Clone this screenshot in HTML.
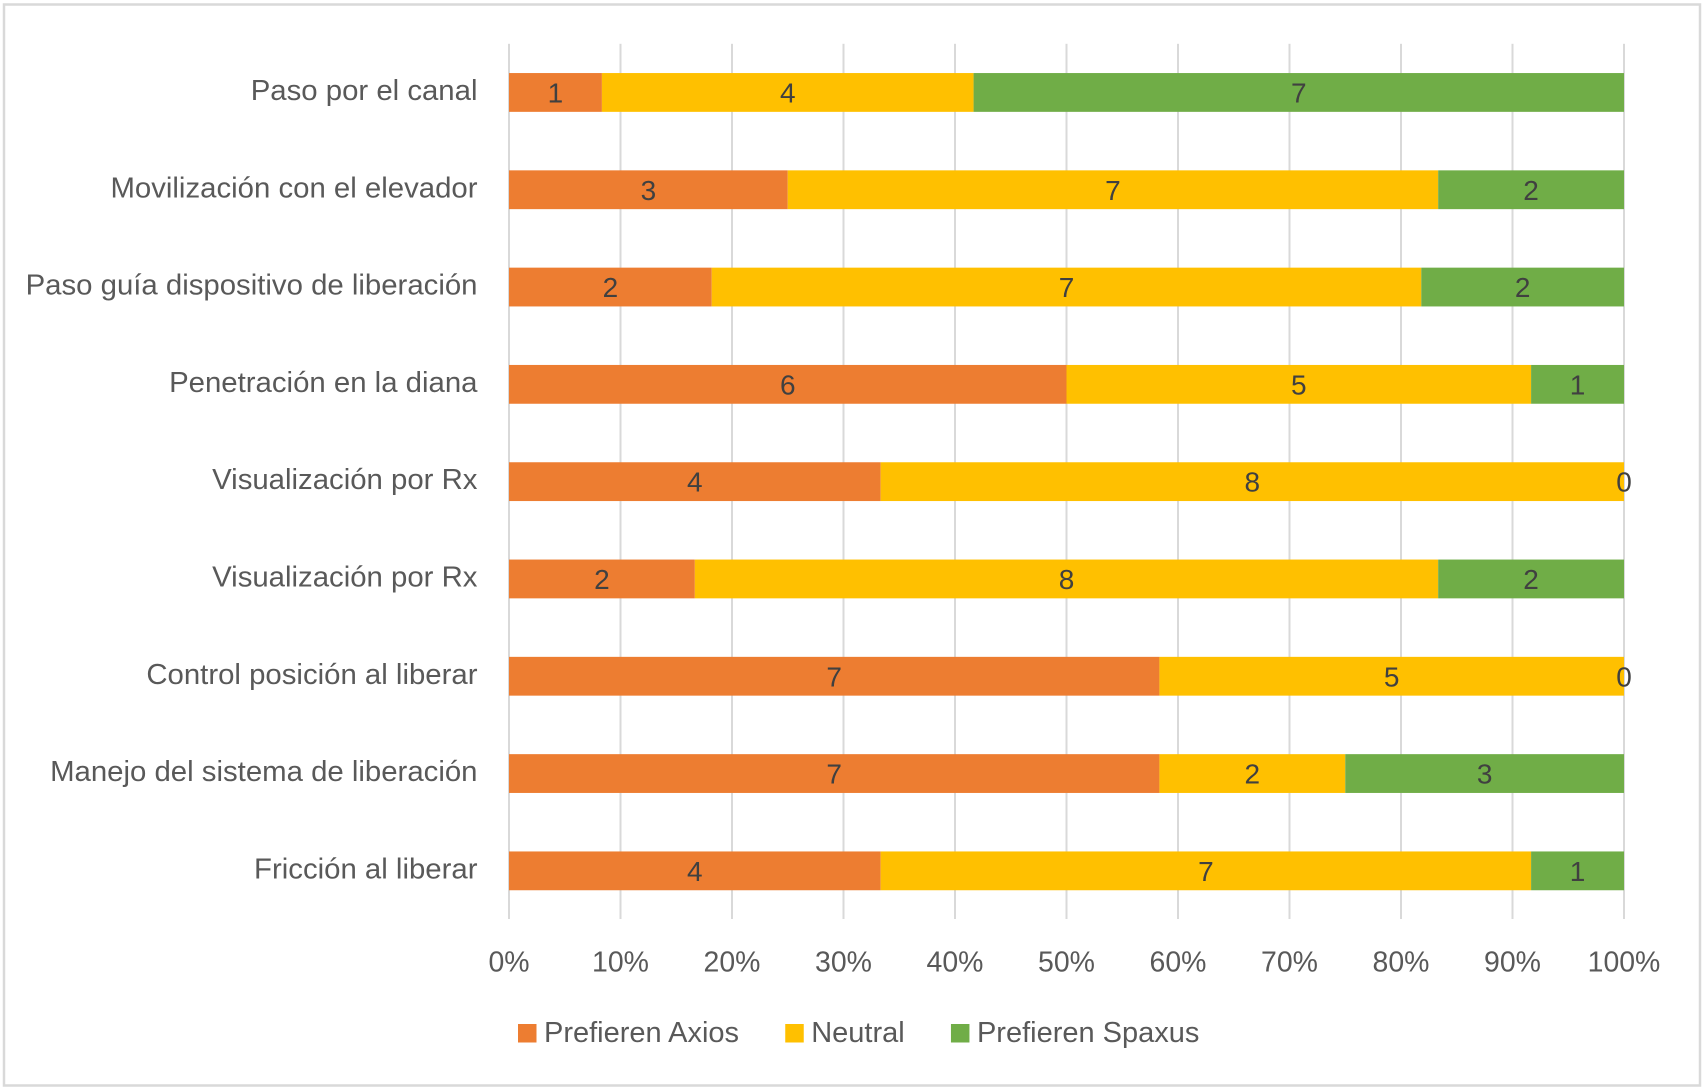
<!DOCTYPE html>
<html lang="es">
<head>
<meta charset="utf-8">
<title>Preferencias Axios vs Spaxus</title>
<style>
  html, body { margin: 0; padding: 0; background: #fff; }
  svg { display: block; font-family: "Liberation Sans", sans-serif; }
</style>
</head>
<body>
<svg id="chart" width="1705" height="1090" viewBox="0 0 1705 1090" xmlns="http://www.w3.org/2000/svg">
  <rect x="4" y="4.5" width="1696" height="1081" fill="#fff" stroke="#d9d9d9" stroke-width="2.5"></rect>
</svg>
<script>
const categories = ["Paso por el canal", "Movilización con el elevador", "Paso guía dispositivo de liberación", "Penetración en la diana", "Visualización por Rx", "Visualización por Rx", "Control posición al liberar", "Manejo del sistema de liberación", "Fricción al liberar"];
const axiosValues = [1, 3, 2, 6, 4, 2, 7, 7, 4];
const neutralValues = [4, 7, 7, 5, 8, 8, 5, 2, 7];
const spaxusValues = [7, 2, 2, 1, 0, 2, 0, 3, 1];
const tickLabels = ["0%", "10%", "20%", "30%", "40%", "50%", "60%", "70%", "80%", "90%", "100%"];
const tickValues = [0, 0.1, 0.2, 0.3, 0.4, 0.5, 0.6, 0.7, 0.8, 0.9, 1];
const seriesNames = ["Prefieren Axios", "Neutral", "Prefieren Spaxus"];
const seriesColors = ["#ed7d31", "#ffc000", "#70ad47"];

const SVG_NS = "http://www.w3.org/2000/svg";
const svg = document.getElementById("chart");
const plotLeft = 509, plotRight = 1624, plotTop = 43.8, plotBottom = 919;
const band = 97.3, barHeight = 38.8;
const textColor = "#595959", labelColor = "#404040";

function xAxis(fraction) { return plotLeft + fraction * (plotRight - plotLeft); }
function yAxis(index) { return plotTop + (index + 0.5) * band; }

function makeRect(x, y, w, h, fill) {
  const r = document.createElementNS(SVG_NS, "rect");
  r.setAttribute("x", x);
  r.setAttribute("y", y);
  r.setAttribute("width", w);
  r.setAttribute("height", h);
  r.setAttribute("fill", fill);
  svg.appendChild(r);
  return r;
}

function makeText(str, x, y, size, anchor, color, stretch) {
  const t = document.createElementNS(SVG_NS, "text");
  t.textContent = str;
  t.setAttribute("x", x);
  t.setAttribute("y", y);
  t.setAttribute("font-size", size);
  t.setAttribute("text-anchor", anchor);
  t.setAttribute("fill", color);
  svg.appendChild(t);
  const len = t.getComputedTextLength() * stretch;
  t.setAttribute("textLength", len);
  t.setAttribute("lengthAdjust", "spacingAndGlyphs");
  t.measuredLength = len;
  return t;
}

tickValues.forEach(function (v, i) {
  const line = makeRect(xAxis(v) - 1, plotTop, 2, plotBottom - plotTop, "#d9d9d9");
  
  
  const label = makeText(tickLabels[i], xAxis(v), 971.5, 29, "middle", textColor, 0.98);
  
  
});

categories.forEach(function (name, i) {
  const cy = yAxis(i);
  const catLabel = makeText(name, 477.5, cy + 7.5, 29, "end", textColor, 1.012);
  
  

  const rowValues = [axiosValues[i], neutralValues[i], spaxusValues[i]];
  const total = rowValues[0] + rowValues[1] + rowValues[2];
  let running = 0;
  rowValues.forEach(function (value, s) {
    const x0 = xAxis(running / total);
    const x1 = xAxis((running + value) / total);
    const bar = makeRect(x0, cy - barHeight / 2, x1 - x0, barHeight, seriesColors[s]);
    
    
    running += value;
  });

  running = 0;
  rowValues.forEach(function (value, s) {
    const mid = xAxis((running + value / 2) / total);
    const valueLabel = makeText(String(value), mid, cy + 10, 28, "middle", labelColor, 1);
    
    
    running += value;
  });
});

let legendX = 518;
seriesNames.forEach(function (name, s) {
  const swatch = makeRect(legendX, 1024, 18.5, 18.5, seriesColors[s]);
  
  
  const label = makeText(name, legendX + 26, 1042, 29, "start", textColor, 1.0);
  
  
  legendX += 26 + label.measuredLength + 46.2;
});
</script>
</body>
</html>
